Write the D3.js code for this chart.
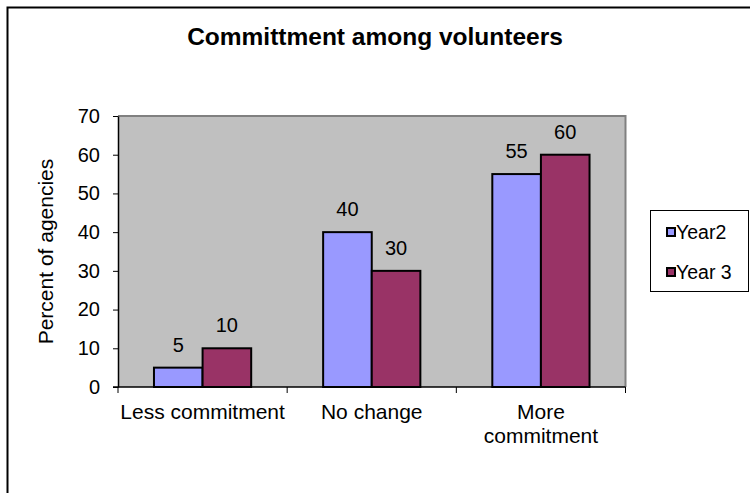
<!DOCTYPE html>
<html>
<head>
<meta charset="utf-8">
<script src="https://cdn.jsdelivr.net/npm/d3@7"></script>
<style>
  html, body { margin: 0; padding: 0; background: #fff; }
  svg { display: block; font-family: "Liberation Sans", Arial, sans-serif; }
</style>
</head>
<body>
<svg id="chart" width="750" height="493"></svg>
<script>
// Chart data
const categories = ["Less commitment", "No change", "More commitment"];
const seriesNames = ["Year2", "Year 3"];
const year2 = [5, 40, 55];
const year3 = [10, 30, 60];
const yTicks = [0, 10, 20, 30, 40, 50, 60, 70];
const seriesColors = ["#9999FF", "#993366"];

const rows = categories.map((c, i) => ({ category: c, values: [year2[i], year3[i]] }));

const svg = d3.select("#chart");
const FONT = "Liberation Sans, Arial, sans-serif";

// Outer frame
svg.append("rect")
  .attr("x", 7.5).attr("y", 7.5)
  .attr("width", 780).attr("height", 520)
  .attr("fill", "#fff").attr("stroke", "#000").attr("stroke-width", 2);

// Title
svg.append("text")
  .attr("x", 375).attr("y", 45)
  .attr("text-anchor", "middle")
  .attr("font-size", 24.5).attr("font-weight", "bold")
  .text("Committment among volunteers");

const plot = { left: 118, right: 625.5, top: 116, bottom: 387 };

const y = d3.scaleLinear().domain([0, 70]).range([plot.bottom, plot.top]);
const x0 = d3.scaleBand().domain(categories).range([plot.left, plot.right]).padding(0);
const x1 = d3.scaleBand().domain(d3.range(seriesNames.length))
  .range([0, x0.bandwidth()]).paddingInner(0).paddingOuter(0.74);

// Plot background
svg.append("rect")
  .attr("x", plot.left).attr("y", plot.top)
  .attr("width", plot.right - plot.left).attr("height", plot.bottom - plot.top)
  .attr("fill", "#C0C0C0");
svg.append("path")
  .attr("d", `M${plot.left},${plot.top}H${plot.right}V${plot.bottom}`)
  .attr("fill", "none").attr("stroke", "#808080").attr("stroke-width", 2);

// Bars
const groups = svg.append("g").selectAll("g")
  .data(rows).join("g")
  .attr("transform", d => `translate(${x0(d.category)},0)`);

groups.selectAll("rect")
  .data(d => d.values.map((v, i) => ({ v, i })))
  .join("rect")
  .attr("x", d => x1(d.i))
  .attr("y", d => y(d.v))
  .attr("width", x1.bandwidth())
  .attr("height", d => y(0) - y(d.v))
  .attr("fill", d => seriesColors[d.i])
  .attr("stroke", "#000").attr("stroke-width", 2);

groups.selectAll("text")
  .data(d => d.values.map((v, i) => ({ v, i })))
  .join("text")
  .attr("x", d => x1(d.i) + x1.bandwidth() / 2)
  .attr("y", d => y(d.v) - 16)
  .attr("text-anchor", "middle")
  .attr("font-size", 20)
  .text(d => d.v);

// Y axis
const yAxis = svg.append("g")
  .attr("transform", `translate(${plot.left},0)`)
  .call(d3.axisLeft(y).tickValues(yTicks).tickSize(5).tickSizeOuter(0).tickPadding(13));
yAxis.select(".domain").attr("stroke", "#000").attr("stroke-width", 1.5);
yAxis.selectAll("text").attr("font-size", 20).attr("fill", "#000")
  .attr("font-family", FONT);

// X axis
const xTickPositions = [plot.left].concat(categories.map(c => x0(c) + x0.bandwidth()));
const xAxisG = svg.append("g");
xAxisG.append("line")
  .attr("x1", plot.left - 5).attr("x2", plot.right)
  .attr("y1", plot.bottom).attr("y2", plot.bottom)
  .attr("stroke", "#000").attr("stroke-width", 1.5);
xAxisG.selectAll("line.tick").data(xTickPositions).join("line")
  .attr("class", "tick")
  .attr("x1", d => d).attr("x2", d => d)
  .attr("y1", plot.bottom).attr("y2", plot.bottom + 6)
  .attr("stroke", "#000").attr("stroke-width", 1);

// Category labels (long ones wrap onto two lines)
const labelLines = { "Less commitment": ["Less commitment"], "No change": ["No change"], "More commitment": ["More", "commitment"] };
categories.forEach(c => {
  const cx = x0(c) + x0.bandwidth() / 2;
  const t = svg.append("text")
    .attr("text-anchor", "middle").attr("font-size", 21)
    .attr("x", cx).attr("y", 419);
  labelLines[c].forEach((line, i) => {
    t.append("tspan").attr("x", cx)
      .attr("dy", i === 0 ? 0 : 24).text(line);
  });
});

// Y axis title
svg.append("text")
  .attr("transform", `translate(53,${(plot.top + plot.bottom) / 2}) rotate(-90)`)
  .attr("text-anchor", "middle").attr("font-size", 21)
  .text("Percent of agencies");

// Legend
const legend = svg.append("g");
legend.append("rect")
  .attr("x", 650.5).attr("y", 210.5).attr("width", 98).attr("height", 81)
  .attr("fill", "#fff").attr("stroke", "#000").attr("stroke-width", 1);
const legendY = [232, 272];
seriesNames.forEach((name, i) => {
  legend.append("rect")
    .attr("x", 667).attr("y", legendY[i] - 4).attr("width", 8).attr("height", 8)
    .attr("fill", seriesColors[i]).attr("stroke", "#000").attr("stroke-width", 2);
  legend.append("text")
    .attr("x", 676).attr("y", legendY[i] + 6.5)
    .attr("font-size", 19.5)
    .text(name);
});
</script>
</body>
</html>
